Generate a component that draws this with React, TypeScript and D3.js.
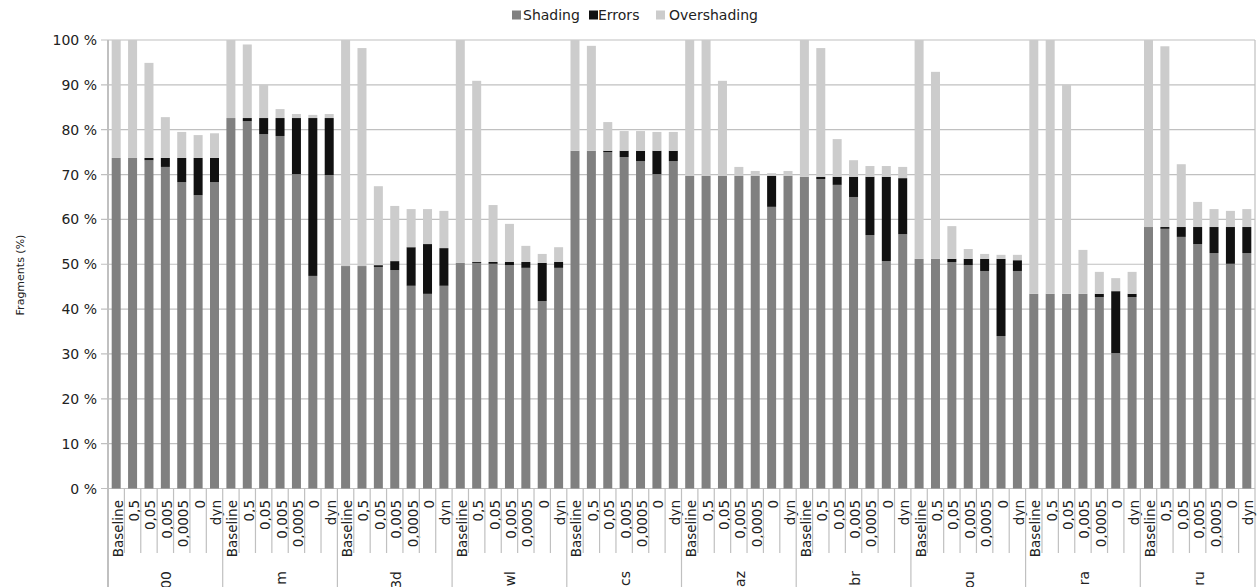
import React from "react";
import * as d3 from "d3";

const groups = ["00", "m", "3d", "wl", "cs", "az", "br", "ou", "ra", "ru"];
const settings = ["Baseline", "0,5", "0,05", "0,005", "0,0005", "0", "dyn"];
const seriesNames = ["Shading", "Errors", "Overshading"];
const seriesColors = ["#808080", "#111111", "#cccccc"];
const yTicks = [0, 10, 20, 30, 40, 50, 60, 70, 80, 90, 100];

// values per group, one entry per setting
const shading = [
  [73.7, 73.7, 73.2, 71.7, 68.3, 65.4, 68.3],
  [82.6, 81.9, 79.0, 78.6, 70.1, 47.4, 69.9],
  [49.6, 49.6, 49.4, 48.7, 45.2, 43.4, 45.2],
  [50.3, 50.3, 50.1, 49.8, 49.2, 41.8, 49.2],
  [75.3, 75.3, 75.0, 73.9, 73.0, 70.1, 73.0],
  [69.7, 69.7, 69.7, 69.7, 69.7, 62.8, 69.7],
  [69.5, 69.0, 67.7, 65.0, 56.5, 50.7, 56.7],
  [51.2, 51.2, 50.5, 49.8, 48.5, 34.0, 48.5],
  [43.4, 43.4, 43.4, 43.4, 42.7, 30.2, 42.7],
  [58.3, 57.9, 56.1, 54.5, 52.5, 50.1, 52.5],
];
const errors = [
  [0, 0, 0.5, 2.0, 5.4, 8.3, 5.4],
  [0, 0.7, 3.6, 4.0, 12.5, 35.2, 12.7],
  [0, 0, 0.4, 2.0, 8.6, 11.1, 8.4],
  [0, 0.2, 0.4, 0.7, 1.3, 8.5, 1.3],
  [0, 0, 0.3, 1.4, 2.3, 5.2, 2.3],
  [0, 0, 0, 0, 0, 6.9, 0],
  [0, 0.5, 1.8, 4.5, 13.0, 18.8, 12.5],
  [0, 0, 0.7, 1.4, 2.7, 17.2, 2.4],
  [0, 0, 0, 0, 0.7, 13.8, 0.7],
  [0, 0.4, 2.2, 3.8, 5.8, 8.2, 5.8],
];
const overshading = [
  [26.3, 26.3, 21.2, 9.1, 5.8, 5.1, 5.5],
  [17.4, 16.4, 7.4, 2.0, 0.9, 0.7, 0.9],
  [50.4, 48.6, 17.6, 12.3, 8.5, 7.8, 8.3],
  [49.7, 40.4, 12.7, 8.5, 3.6, 2.0, 3.3],
  [24.7, 23.4, 6.4, 4.4, 4.4, 4.2, 4.2],
  [30.3, 30.3, 21.2, 2.0, 1.1, 0.6, 1.1],
  [30.5, 28.7, 8.4, 3.7, 2.4, 2.4, 2.5],
  [48.8, 41.7, 7.3, 2.2, 1.1, 0.9, 1.2],
  [56.6, 56.6, 46.6, 9.8, 4.9, 2.9, 4.9],
  [41.7, 40.3, 14.0, 5.6, 4.0, 3.6, 4.0],
];

const W = 1257;
const H = 587;
const FONT = "DejaVu Sans";

export default function App() {
  const left = 108;
  const right = 1255;
  const top = 40;
  const bottom = 488.5;

  const x0 = d3.scaleBand<string>().domain(groups).range([left, right]).padding(0);
  const x1 = d3.scaleBand<string>().domain(settings).range([0, x0.bandwidth()]).padding(0);
  const y = d3.scaleLinear().domain([0, 100]).range([bottom, top]);
  const barW = 9;

  const rows = [];
  groups.forEach((g, gi) => {
    settings.forEach((s, si) => {
      rows.push({ g, s, Shading: shading[gi][si], Errors: errors[gi][si], Overshading: overshading[gi][si] });
    });
  });
  const stacked = d3.stack<any>().keys(seriesNames)(rows);

  const legendItems = [
    { name: "Shading", sq: 512, tx: 523 },
    { name: "Errors", sq: 589, tx: 598 },
    { name: "Overshading", sq: 656, tx: 669 },
  ];

  return (
    <svg width={W} height={H} style={{ position: "absolute", left: 0, top: 0, background: "#fff" }} fontFamily={FONT}>
      {/* gridlines */}
      {yTicks.map((t) => (
        <g key={t}>
          <line x1={left - 7} x2={right} y1={y(t)} y2={y(t)} stroke="#c0c0c0" strokeWidth={1.2} />
          <text x={97} y={y(t)} textAnchor="end" dominantBaseline="central" fontSize={14} fill="#222">
            {t} %
          </text>
        </g>
      ))}
      {/* bars */}
      {stacked.map((layer, li) => (
        <g key={layer.key} fill={seriesColors[li]}>
          {layer.map((d, i) => {
            const row = d.data;
            const cx = (x0(row.g) as number) + (x1(row.s) as number) + x1.bandwidth() / 2;
            const h = y(d[0]) - y(d[1]);
            if (h <= 0) return null;
            return <rect key={i} x={cx - barW / 2} y={y(d[1])} width={barW} height={h} />;
          })}
        </g>
      ))}
      {/* axis lines */}
      <line x1={left} x2={left} y1={top} y2={H} stroke="#c0c0c0" strokeWidth={2} />
      <line x1={right} x2={right} y1={top} y2={H} stroke="#c0c0c0" strokeWidth={1.2} />
      {/* category separators and labels */}
      {groups.map((g, gi) => (
        <g key={g}>
          {gi > 0 && (
            <line x1={x0(g)} x2={x0(g)} y1={bottom} y2={H} stroke="#c0c0c0" strokeWidth={1.2} />
          )}
          {settings.map((s, si) => {
            const sx = (x0(g) as number) + (x1(s) as number);
            const cx = sx + x1.bandwidth() / 2;
            return (
              <g key={s}>
                {si > 0 && <line x1={sx} x2={sx} y1={bottom} y2={553} stroke="#c0c0c0" strokeWidth={1.2} />}
                <text
                  transform={`translate(${cx + 1.5},500) rotate(-90)`}
                  textAnchor="end"
                  dominantBaseline="central"
                  fontSize={13.5}
                  fill="#222"
                >
                  {s}
                </text>
              </g>
            );
          })}
          <text
            transform={`translate(${(x0(g) as number) + x0.bandwidth() / 2 + 1},571) rotate(-90)`}
            textAnchor="end"
            dominantBaseline="central"
            fontSize={14}
            fill="#222"
          >
            {g}
          </text>
        </g>
      ))}
      {/* y title */}
      <text transform="translate(20,275) rotate(-90)" textAnchor="middle" dominantBaseline="central" fontSize={11} fill="#222">
        Fragments (%)
      </text>
      {/* legend */}
      {legendItems.map((it, i) => (
        <g key={it.name}>
          <rect x={it.sq} y={10.5} width={9} height={9} fill={seriesColors[i]} />
          <text x={it.tx} y={15} dominantBaseline="central" fontSize={14} fill="#222">
            {it.name}
          </text>
        </g>
      ))}
    </svg>
  );
}
